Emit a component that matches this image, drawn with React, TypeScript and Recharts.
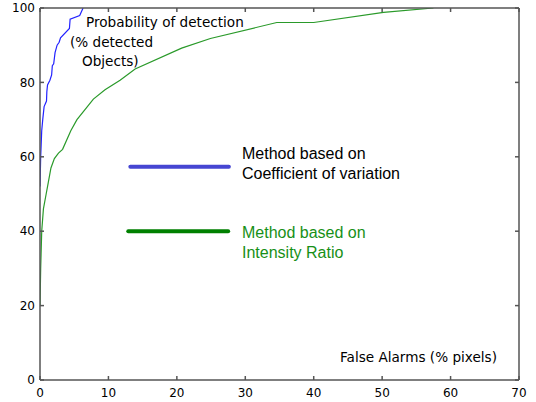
import React from "react";
import { LineChart, Line, XAxis, YAxis, ReferenceLine } from "recharts";

const xTicks = [0, 10, 20, 30, 40, 50, 60, 70];
const yTicks = [0, 20, 40, 60, 80, 100];

// Method based on Coefficient of variation
const cvX = [0, 0.1, 0.25, 0.4, 0.6, 0.95, 1.0, 1.1, 1.45, 1.7, 1.8, 2.0, 2.2, 2.5, 2.8, 3.0, 4.3, 4.4, 5.8, 6.3];
const cvY = [52, 60, 67, 70, 73.5, 75, 77.5, 79.3, 80.6, 82, 84.5, 85, 88, 90, 90.8, 92, 94.5, 97, 98, 100];

// Method based on Intensity Ratio
const irX = [0, 0.1, 0.25, 0.5, 0.9, 1.2, 1.6, 2.1, 2.7, 3.3, 4.5, 5.4, 7.8, 9.5, 11.7, 13.9, 20.7, 24.9, 34.6, 40, 50.2, 57.5];
const irY = [20, 30, 40, 46, 50, 53, 57, 59.5, 61, 62, 67, 70, 75.5, 78, 80.6, 83.6, 89.2, 91.8, 96.1, 96.1, 98.8, 100];

const legendBlueX = [13.2, 27.6];
const legendBlueY = 57.3;
const legendGreenX = [12.9, 27.5];
const legendGreenY = 40;

const cvData = cvX.map((x, i) => ({ x, y: cvY[i] }));
const irData = irX.map((x, i) => ({ x, y: irY[i] }));

const FRAME = "#555";
const tickFont = { fill: "#000", fontSize: 12, fontFamily: "DejaVu Sans" };
const NoTick = () => <g />;

export default function App() {
  return (
    <div style={{ position: "fixed", left: 0, top: 0, width: 536, height: 402, background: "#fff" }}>
      <LineChart
        width={536}
        height={402}
        margin={{ top: 7, right: 16, bottom: 2, left: 0 }}
        style={{ overflow: "visible" }}
      >
        <XAxis
          type="number"
          dataKey="x"
          domain={[0, 70]}
          ticks={xTicks}
          allowDataOverflow
          height={20}
          tickSize={-4}
          tickMargin={12}
          stroke={FRAME}
          strokeWidth={1.5}
          tick={tickFont}
        />
        <XAxis
          xAxisId="top"
          orientation="top"
          type="number"
          dataKey="x"
          domain={[0, 70]}
          ticks={xTicks}
          allowDataOverflow
          height={1}
          tickSize={-4}
          tickMargin={0}
          stroke={FRAME}
          strokeWidth={1.5}
          tick={NoTick}
        />
        <YAxis
          type="number"
          dataKey="y"
          domain={[0, 100]}
          ticks={yTicks}
          allowDataOverflow
          width={40}
          tickSize={-4}
          tickMargin={9}
          stroke={FRAME}
          strokeWidth={1.5}
          tick={tickFont}
        />
        <YAxis
          yAxisId="right"
          orientation="right"
          type="number"
          dataKey="y"
          domain={[0, 100]}
          ticks={yTicks}
          allowDataOverflow
          width={1}
          tickSize={-4}
          tickMargin={0}
          stroke={FRAME}
          strokeWidth={1.5}
          tick={NoTick}
        />
        <Line
          data={irData}
          dataKey="y"
          type="linear"
          stroke="#2a9a2a"
          strokeWidth={1.2}
          dot={false}
          isAnimationActive={false}
        />
        <Line
          data={cvData}
          dataKey="y"
          type="linear"
          stroke="#2222ff"
          strokeWidth={1.2}
          dot={false}
          isAnimationActive={false}
        />
        <ReferenceLine
          segment={[{ x: legendBlueX[0], y: legendBlueY }, { x: legendBlueX[1], y: legendBlueY }]}
          stroke="#4646d2"
          strokeWidth={4}
          strokeLinecap="round"
          ifOverflow="visible"
        />
        <ReferenceLine
          segment={[{ x: legendGreenX[0], y: legendGreenY }, { x: legendGreenX[1], y: legendGreenY }]}
          stroke="#008000"
          strokeWidth={4}
          strokeLinecap="round"
          ifOverflow="visible"
        />
      </LineChart>
      <svg
        width={536}
        height={402}
        style={{ position: "absolute", left: 0, top: 0, pointerEvents: "none" }}
      >
        <g fontFamily="DejaVu Sans" fontSize={13.6} fill="#000">
          <text x={86} y={27}>Probability of detection</text>
          <text x={70} y={47}>(% detected</text>
          <text x={82} y={66}>Objects)</text>
          <text x={340} y={362}>False Alarms (% pixels)</text>
        </g>
        <g fontFamily="Liberation Sans" fontSize={16}>
          <text x={242} y={158.5} fill="#000">Method based on</text>
          <text x={242} y={178.5} fill="#000">Coefficient of variation</text>
          <text x={242} y={237.5} fill="#179017">Method based on</text>
          <text x={242} y={257.5} fill="#179017">Intensity Ratio</text>
        </g>
      </svg>
    </div>
  );
}
